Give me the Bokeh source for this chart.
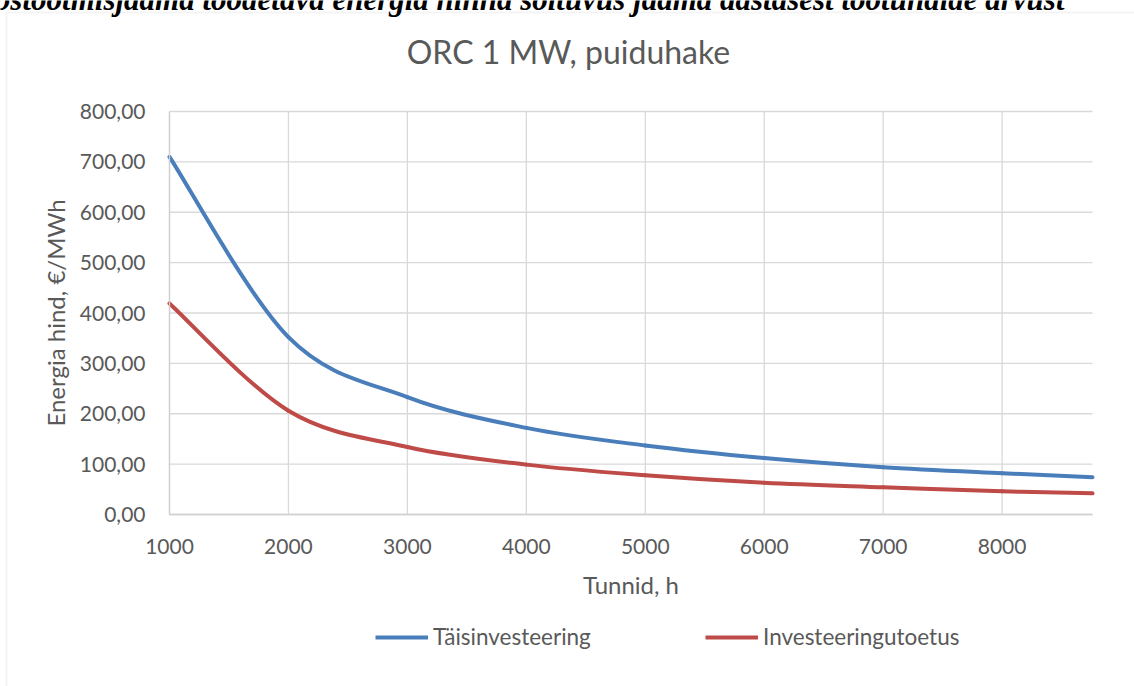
from bokeh.plotting import figure
from bokeh.models import Range1d, FixedTicker, Label, BoxAnnotation, Legend, LegendItem
from bokeh.embed import file_html
from bokeh.resources import INLINE

# ---- data ----
hours = [1000, 2000, 3000, 4000, 5000, 6000, 7000, 8000, 8760]
full_investment = [710, 352, 233, 172, 137, 112, 94, 82, 74]        # Täisinvesteering
investment_support = [419, 206, 134, 99, 78, 63, 54, 46, 42]        # Investeeringutoetus
series_names = ["Täisinvesteering", "Investeeringutoetus"]
x_ticks = [1000, 2000, 3000, 4000, 5000, 6000, 7000, 8000]
y_ticks = [0, 100, 200, 300, 400, 500, 600, 700, 800]
y_tick_labels = ["0,00", "100,00", "200,00", "300,00", "400,00", "500,00", "600,00", "700,00", "800,00"]
x_min, x_max = 1000, 8760
y_min, y_max = 0, 800
chart_title = "ORC 1 MW, puiduhake"
x_title = "Tunnid, h"
y_title = "Energia hind, €/MWh"
header_text = "Koostootmisjaama toodetava energia hinna sõltuvus jaama aastasest töötundide arvust"

# ---- layout (pixels) ----
W, H = 1134, 686
PL, PR, PT, PB = 169, 1092, 111, 514     # plot-area edges on the canvas

BLUE = "#4a7ebb"
RED = "#be4b48"
TXT = "#595959"
GRID = "#d9d9d9"
FONT = "Lato"

# the frame covers the whole canvas; ranges chosen so the plot area sits at PL..PR / PT..PB
kx = (x_max - x_min) / (PR - PL)
ky = (y_max - y_min) / (PB - PT)
xr = Range1d(x_min - PL * kx, x_max + (W - PR) * kx)
yr = Range1d(y_min - (H - PB) * ky, y_max + PT * ky)


def smooth_segments(xs, ys):
    """Excel-style smoothed line: cubic Bezier segments through the points."""
    n = len(xs)
    out = {k: [] for k in ("x0", "y0", "x1", "y1", "cx0", "cy0", "cx1", "cy1")}
    for i in range(n - 1):
        a = max(i - 1, 0)
        d = min(i + 2, n - 1)
        out["x0"].append(xs[i]); out["y0"].append(ys[i])
        out["x1"].append(xs[i + 1]); out["y1"].append(ys[i + 1])
        out["cx0"].append(xs[i] + (xs[i + 1] - xs[a]) / 6.0)
        out["cy0"].append(ys[i] + (ys[i + 1] - ys[a]) / 6.0)
        out["cx1"].append(xs[i + 1] - (xs[d] - xs[i]) / 6.0)
        out["cy1"].append(ys[i + 1] - (ys[d] - ys[i]) / 6.0)
    return out


p = figure(width=W, height=H, output_backend="svg", toolbar_location=None,
           x_range=xr, y_range=yr, min_border=0, title=None)
p.background_fill_color = "white"
p.border_fill_color = "white"
p.outline_line_color = None
p.xgrid.visible = False
p.ygrid.visible = False

# chart area border
p.add_layout(BoxAnnotation(left=6, right=W + 40, top=12, bottom=H + 40,
                           left_units="canvas", right_units="canvas",
                           top_units="canvas", bottom_units="canvas",
                           fill_alpha=0, line_color=GRID, line_width=2, level="underlay"))

# gridlines limited to the plot area
p.segment(x0=x_ticks, x1=x_ticks, y0=[y_min] * len(x_ticks), y1=[y_max] * len(x_ticks),
          line_color=GRID, line_width=1.3)
p.segment(x0=[x_min] * len(y_ticks), x1=[x_max] * len(y_ticks), y0=y_ticks, y1=y_ticks,
          line_color=GRID, line_width=1.3)

# axes fixed at the plot-area edges
p.xaxis.fixed_location = y_min
p.yaxis.fixed_location = x_min
p.xaxis.bounds = (x_min, x_max)
p.yaxis.bounds = (y_min, y_max)
p.xaxis.ticker = FixedTicker(ticks=x_ticks)
p.yaxis.ticker = FixedTicker(ticks=y_ticks)
p.yaxis.major_label_overrides = {t: lab for t, lab in zip(y_ticks, y_tick_labels)}
p.xaxis.axis_label = x_title
p.yaxis.axis_label = y_title
for ax in (p.xaxis, p.yaxis):
    ax.axis_line_color = "#d0d0d0"
    ax.axis_line_width = 1.3
    ax.major_tick_line_color = None
    ax.minor_tick_line_color = None
    ax.major_label_text_font = FONT
    ax.major_label_text_font_size = "21px"
    ax.major_label_text_color = TXT
    ax.axis_label_text_font = FONT
    ax.axis_label_text_font_size = "24px"
    ax.axis_label_text_font_style = "normal"
    ax.axis_label_text_color = TXT
p.xaxis.major_label_standoff = 18
p.yaxis.major_label_standoff = 18
p.xaxis.axis_label_standoff = 13
p.yaxis.axis_label_standoff = 7

# smoothed series
renderers = []
for ys, col in ((full_investment, BLUE), (investment_support, RED)):
    seg = smooth_segments(hours, ys)
    p.bezier(x0=seg["x0"], y0=seg["y0"], x1=seg["x1"], y1=seg["y1"],
             cx0=seg["cx0"], cy0=seg["cy0"], cx1=seg["cx1"], cy1=seg["cy1"],
             line_color=col, line_width=4, line_cap="round")
    r = p.line(hours, ys, line_color=col, line_width=4, visible=False)
    renderers.append(r)

# legends (one per entry to place them like the original)
for name, r, xpos in zip(series_names, renderers, (375, 705)):
    lg = Legend(items=[LegendItem(label=name, renderers=[r])], location=(xpos, H - 650),
                orientation="horizontal", glyph_width=53, glyph_height=20, label_height=20,
                label_standoff=5, padding=0, margin=0, spacing=0,
                border_line_color=None, background_fill_alpha=0,
                label_text_font=FONT, label_text_font_size="22.5px", label_text_color=TXT)
    p.add_layout(lg, "center")

# chart title
p.add_layout(Label(x=568, y=51, x_units="canvas", y_units="canvas", text=chart_title,
                   text_align="center", text_baseline="alphabetic", text_font=FONT,
                   text_font_size="32px", text_color=TXT))

# document caption above the chart (cut off at the top in the original)
p.add_layout(Label(x=1064, y=-1, x_units="canvas", y_units="canvas", text=header_text,
                   text_align="right", text_baseline="alphabetic",
                   text_font="Liberation Serif", text_font_style="bold italic",
                   text_font_size="31px", text_color="black"))

open("out.html", "w").write(file_html(p, INLINE))
